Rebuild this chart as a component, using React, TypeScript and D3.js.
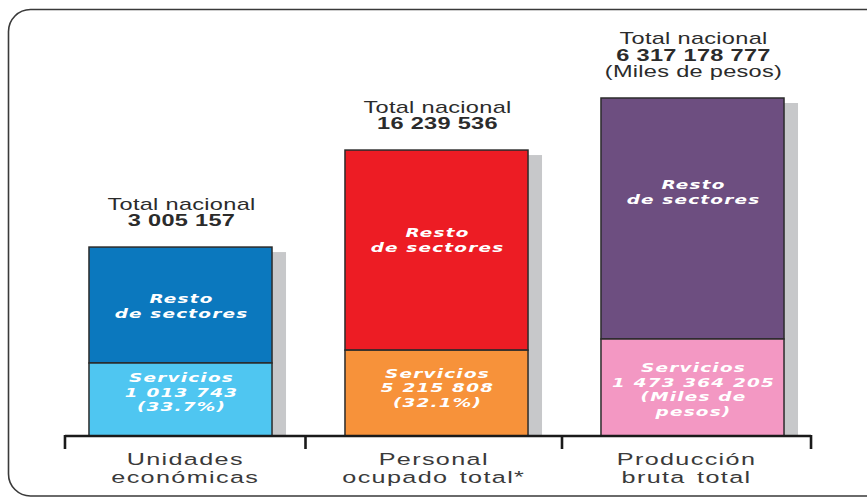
import React from "react";
import * as d3 from "d3";

// ---- data ----
const categories = ["Unidades económicas", "Personal ocupado total*", "Producción bruta total"];
const categoryLines = [["Unidades", "económicas"], ["Personal", "ocupado total*"], ["Producción", "bruta total"]];
const totalLabelLines = [
  ["Total nacional", "3 005 157"],
  ["Total nacional", "16 239 536"],
  ["Total nacional", "6 317 178 777", "(Miles de pesos)"],
];
const serviciosLabelLines = [
  ["Servicios", "1 013 743", "(33.7%)"],
  ["Servicios", "5 215 808", "(32.1%)"],
  ["Servicios", "1 473 364 205", "(Miles de", "pesos)"],
];
const restoLabelLines = ["Resto", "de sectores"];
// drawn heights of each bar and of its "Servicios" segment (display units, 0-100)
const barHeight = [55.9, 84.6, 100];
const serviciosHeight = [21.6, 25.4, 28.7];
const restoColors = ["#0b78be", "#ed1c24", "#6d4e80"];
const serviciosColors = ["#4fc6f1", "#f7923a", "#f398c3"];

// ---- layout ----
const W = 867;
const H = 498;
const BASE = 436;
const restoTextAdj = [1.5, -9.5, -25.5];
const servTextAdj = [-6.5, -5, 2.5];
const FONT = "'Liberation Sans', Arial, Helvetica, sans-serif";
const INNER_FONT = "'DejaVu Sans', Verdana, sans-serif";
const SX = 1.5;

export default function App() {
  const x = d3
    .scaleBand<string>()
    .domain(categories)
    .range([52.5, 820.5])
    .paddingInner(0.285)
    .paddingOuter(0.1425);
  const y = d3.scaleLinear().domain([0, 100]).range([BASE, 98]);
  const bw = x.bandwidth();

  const lefts = categories.map((c) => x(c) as number);
  const ticks = [
    lefts[0] - 24,
    (lefts[0] + bw + lefts[1]) / 2 - 3,
    (lefts[1] + bw + lefts[2]) / 2 - 2.5,
    lefts[2] + bw + 27,
  ];

  const innerText = (t: string, tx: number, ty: number, key: number) => (
    <text
      key={key}
      transform={`translate(${tx},${ty}) scale(${SX},1)`}
      textAnchor="middle"
      fontFamily={INNER_FONT}
      fontSize={12.3}
      fontWeight="bold"
      fontStyle="italic"
      letterSpacing={0.8}
      fill="#ffffff"
    >
      {t}
    </text>
  );

  return (
    <svg
      width={W}
      height={H}
      style={{ position: "absolute", left: 0, top: 0, display: "block", background: "#fff" }}
    >
      <rect x={8.5} y={9.5} width={880} height={486.5} rx={22} ry={22} fill="none" stroke="#3a3a3a" strokeWidth={1.6} />

      {categories.map((c, i) => {
        const x0 = lefts[i];
        const top = y(barHeight[i]);
        const split = y(serviciosHeight[i]);
        const cx = x0 + bw / 2;
        const restoMid = (top + split) / 2 + restoTextAdj[i];
        const servMid = (split + BASE) / 2 + servTextAdj[i];
        const sl = serviciosLabelLines[i];
        const tl = totalLabelLines[i];
        return (
          <g key={c}>
            <rect x={x0 + 14} y={top + 5} width={bw} height={BASE - top - 5} fill="#c7c8ca" />
            <rect x={x0} y={top} width={bw} height={split - top} fill={restoColors[i]} stroke="#2b2b2b" strokeWidth={1.5} />
            <rect x={x0} y={split} width={bw} height={BASE - split} fill={serviciosColors[i]} stroke="#2b2b2b" strokeWidth={1.5} />
            {restoLabelLines.map((t, k) => innerText(t, cx + 1, restoMid + (k - 0.5) * 15 + 4, k))}
            {sl.map((t, k) => innerText(t, cx + 1, servMid + (k - (sl.length - 1) / 2) * 14.5 + 4, 10 + k))}
            {tl.map((t, k) => (
              <text
                key={20 + k}
                transform={`translate(${cx + 1},${top - 21 - (tl.length - 1 - k) * 16.5}) scale(${SX},1)`}
                textAnchor="middle"
                fontFamily={FONT}
                fontSize={15.7}
                fontWeight={k === 1 ? "bold" : "normal"}
                letterSpacing={0.2}
                fill="#2b2b2b"
              >
                {t}
              </text>
            ))}
          </g>
        );
      })}

      <line x1={ticks[0]} x2={ticks[3]} y1={BASE} y2={BASE} stroke="#1a1a1a" strokeWidth={2.4} />
      {ticks.map((t, i) => (
        <line key={i} x1={t} x2={t} y1={BASE - 1} y2={449} stroke="#1a1a1a" strokeWidth={2.6} />
      ))}
      {categoryLines.map((lines, i) => {
        const cx = (ticks[i] + ticks[i + 1]) / 2;
        return lines.map((t, k) => (
          <text
            key={`${i}-${k}`}
            transform={`translate(${cx},${465 + k * 18}) scale(${SX},1)`}
            textAnchor="middle"
            fontFamily={FONT}
            fontSize={16.8}
            letterSpacing={0.9}
            wordSpacing={2}
            fill="#3a3a3a"
          >
            {t}
          </text>
        ));
      })}
    </svg>
  );
}
